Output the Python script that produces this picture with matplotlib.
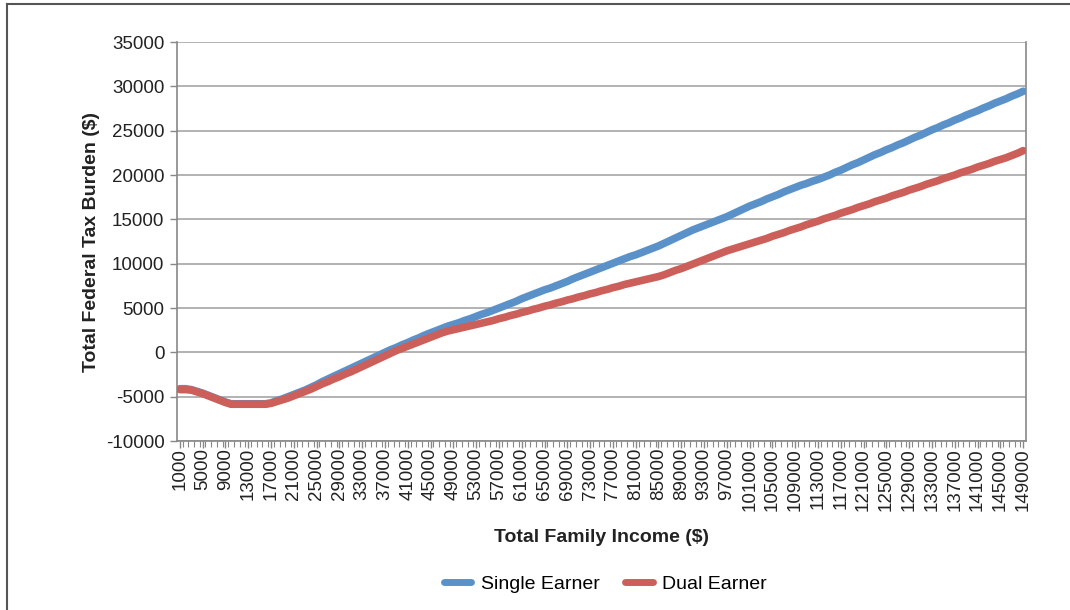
import matplotlib
matplotlib.use("Agg")
import matplotlib.pyplot as plt
from matplotlib.lines import Line2D

plt.rcParams['font.family'] = ['Liberation Sans', 'DejaVu Sans']

# income categories (1000 .. 149000 step 1000)
income = list(range(1000, 150000, 1000))

single_earner = [
	-4100, -4100, -4200, -4400, -4600, -4850, -5100, -5350, -5600, -5800,
	-5800, -5800, -5800, -5800, -5800, -5800, -5700, -5450, -5250, -5000,
	-4750, -4500, -4250, -3950, -3650, -3300, -3000, -2700, -2400, -2100,
	-1800, -1500, -1200, -900, -600, -300, 0, 300, 550, 850,
	1100, 1400, 1650, 1950, 2200, 2450, 2700, 2950, 3150, 3350,
	3600, 3800, 4050, 4300, 4500, 4750, 5000, 5250, 5500, 5750,
	6050, 6300, 6550, 6800, 7050, 7250, 7500, 7750, 8000, 8300,
	8550, 8800, 9050, 9300, 9550, 9800, 10050, 10300, 10550, 10800,
	11000, 11250, 11500, 11750, 12000, 12300, 12600, 12900, 13200, 13500,
	13800, 14050, 14300, 14550, 14800, 15050, 15300, 15600, 15900, 16200,
	16500, 16750, 17000, 17300, 17550, 17800, 18100, 18350, 18600, 18850,
	19050, 19300, 19500, 19750, 20000, 20300, 20550, 20850, 21150, 21400,
	21700, 22000, 22300, 22550, 22850, 23100, 23400, 23650, 23950, 24250,
	24500, 24800, 25100, 25350, 25650, 25900, 26200, 26450, 26750, 27000,
	27250, 27550, 27800, 28100, 28350, 28600, 28900, 29150, 29450,
]

dual_earner = [
	-4200, -4200, -4250, -4450, -4650, -4900, -5150, -5400, -5650, -5850,
	-5850, -5850, -5850, -5850, -5850, -5850, -5750, -5550, -5350, -5150,
	-4900, -4650, -4400, -4150, -3850, -3550, -3300, -3000, -2750, -2450,
	-2200, -1900, -1600, -1300, -1000, -700, -400, -100, 200, 450,
	700, 950, 1200, 1450, 1700, 1950, 2200, 2400, 2550, 2700,
	2850, 3000, 3150, 3300, 3450, 3600, 3800, 3950, 4150, 4300,
	4500, 4650, 4850, 5000, 5200, 5350, 5550, 5700, 5900, 6050,
	6250, 6400, 6600, 6750, 6950, 7100, 7300, 7450, 7650, 7800,
	7950, 8100, 8250, 8400, 8550, 8750, 9000, 9250, 9450, 9700,
	9950, 10200, 10450, 10700, 10950, 11200, 11450, 11650, 11850, 12050,
	12250, 12450, 12650, 12850, 13100, 13300, 13500, 13750, 13950, 14150,
	14400, 14600, 14800, 15050, 15250, 15450, 15700, 15900, 16100, 16350,
	16550, 16750, 17000, 17200, 17400, 17650, 17850, 18050, 18300, 18500,
	18700, 18950, 19150, 19350, 19600, 19800, 20000, 20250, 20450, 20650,
	20900, 21100, 21300, 21550, 21750, 21950, 22200, 22450, 22750,
]

y_ticks = list(range(-10000, 35001, 5000))

BLUE = '#5B91C9'
RED = '#CC5F5A'
GRID = '#A6A6A6'


def main():
	fig = plt.figure(figsize=(10.7, 6.1), dpi=100)
	ax = fig.add_axes([0.1654, 0.277, 0.7935, 0.6541])

	pos = list(range(len(income)))
	ax.plot(pos, single_earner, color=BLUE, lw=5.5, solid_capstyle='round',
			solid_joinstyle='round', label='Single Earner', zorder=3)
	ax.plot(pos, dual_earner, color=RED, lw=5.5, solid_capstyle='round',
			solid_joinstyle='round', label='Dual Earner', zorder=3)

	ax.set_xlim(-0.5, len(income) - 0.5)
	ax.set_ylim(-10000, 35000)
	ax.set_yticks(y_ticks)
	ax.set_yticklabels([str(v) for v in y_ticks])
	ax.yaxis.grid(True, color=GRID, lw=1.2)
	ax.set_axisbelow(True)

	ax.set_xticks(pos[::4])
	ax.set_xticklabels([str(v) for v in income[::4]], rotation=90)
	ax.set_xticks([p + 0.5 for p in pos[:-1]], minor=True)

	ax.tick_params(axis='both', which='major', labelsize=13.5, colors='#222222',
				   length=5, width=1, color='#888888')
	ax.tick_params(axis='x', which='minor', length=4, width=0.8, color='#888888')
	ax.tick_params(axis='y', pad=4)
	ax.tick_params(axis='x', pad=0)

	for s in ax.spines.values():
		s.set_color('#888888')
		s.set_linewidth(1.2)
	ax.spines['top'].set_visible(False)

	ax.set_xlabel('Total Family Income ($)', fontsize=14, fontweight='bold',
				  color='#222222', labelpad=13)
	ax.set_ylabel('Total Federal Tax Burden ($)', fontsize=14, fontweight='bold',
				  color='#222222', labelpad=4)

	leg = ax.legend(loc='center', bbox_to_anchor=(0.566, 0.043), bbox_transform=fig.transFigure,
			  ncol=2, frameon=False, fontsize=14, handlelength=1.4,
			  columnspacing=1.3, handletextpad=0.5)
	for h in leg.get_lines():
		h.set_linewidth(5)

	# outer frame (left and top)
	fig.add_artist(Line2D([0.0062, 0.0062], [0, 0.994], transform=fig.transFigure,
						  color='#555555', lw=1.5))
	fig.add_artist(Line2D([0.0062, 1], [0.994, 0.994], transform=fig.transFigure,
						  color='#555555', lw=1.5))

	fig.savefig('out.png', dpi=100)


if __name__ == "__main__":
	main()
